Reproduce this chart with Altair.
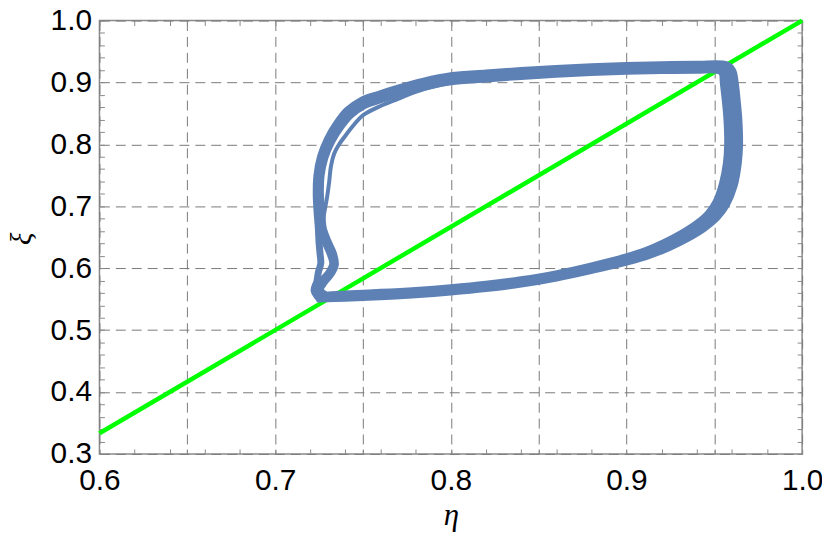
import altair as alt
import pandas as pd

# ---- axes ----
x_domain = [0.6, 1.0]
y_domain = [0.3, 1.0]
x_grid_values = [0.6, 0.65, 0.7, 0.75, 0.8, 0.85, 0.9, 0.95, 1.0]
y_grid_values = [0.3, 0.4, 0.5, 0.6, 0.7, 0.8, 0.9, 1.0]
x_minor_ticks = [0.6, 0.62, 0.64, 0.65, 0.66, 0.68, 0.7, 0.72, 0.74, 0.75, 0.76, 0.78,
                 0.8, 0.82, 0.84, 0.85, 0.86, 0.88, 0.9, 0.92, 0.94, 0.95, 0.96, 0.98, 1.0]
y_minor_ticks = [0.3, 0.32, 0.34, 0.36, 0.38, 0.4, 0.42, 0.44, 0.46, 0.48, 0.5, 0.52,
                 0.54, 0.56, 0.58, 0.6, 0.62, 0.64, 0.66, 0.68, 0.7, 0.72, 0.74, 0.76,
                 0.78, 0.8, 0.82, 0.84, 0.86, 0.88, 0.9, 0.92, 0.94, 0.96, 0.98, 1.0]

# ---- green reference line ----
green_eta = [0.6, 1.0]
green_xi = [0.3333, 1.0]

# ---- blue trajectory: three overlapping cycles (outer / middle / inner) ----
outer_eta = [0.7252, 0.7400, 0.7600, 0.7800, 0.8000, 0.8200, 0.8401, 0.8602, 0.8804, 0.9006,
             0.9130, 0.9244, 0.9348, 0.9442, 0.9516, 0.9570, 0.9614, 0.9637, 0.9644, 0.9640,
             0.9629, 0.9619, 0.9605, 0.9570, 0.9400, 0.9200, 0.9000, 0.8800, 0.8600, 0.8400,
             0.8200, 0.8000, 0.7846, 0.7695, 0.7594, 0.7492, 0.7408, 0.7347, 0.7296, 0.7259,
             0.7238, 0.7234, 0.7239, 0.7246, 0.7250, 0.7256, 0.7260, 0.7246, 0.7238, 0.7222,
             0.7252]
outer_xi = [0.5500, 0.5515, 0.5540, 0.5572, 0.5615, 0.5670, 0.5743, 0.5841, 0.5965, 0.6102,
            0.6206, 0.6335, 0.6481, 0.6644, 0.6820, 0.7029, 0.7338, 0.7700, 0.8000, 0.8400,
            0.8750, 0.9000, 0.9190, 0.9285, 0.9293, 0.9288, 0.9276, 0.9256, 0.9228, 0.9193,
            0.9153, 0.9108, 0.9022, 0.8906, 0.8815, 0.8713, 0.8545, 0.8324, 0.8076, 0.7810,
            0.7500, 0.7200, 0.6900, 0.6650, 0.6420, 0.6230, 0.6080, 0.5930, 0.5790, 0.5640,
            0.5500]

middle_eta = [0.7270, 0.7400, 0.7600, 0.7800, 0.8000, 0.8200, 0.8400, 0.8600, 0.8800, 0.9000,
              0.9120, 0.9230, 0.9330, 0.9420, 0.9490, 0.9540, 0.9580, 0.9603, 0.9610, 0.9606,
              0.9595, 0.9585, 0.9575, 0.9545, 0.9400, 0.9200, 0.9000, 0.8800, 0.8600, 0.8400,
              0.8200, 0.8000, 0.7850, 0.7700, 0.7600, 0.7500, 0.7420, 0.7360, 0.7310, 0.7272,
              0.7250, 0.7246, 0.7252, 0.7260, 0.7285, 0.7315, 0.7328, 0.7303, 0.7260, 0.7240,
              0.7270]
middle_xi = [0.5530, 0.5550, 0.5575, 0.5607, 0.5650, 0.5705, 0.5778, 0.5875, 0.6000, 0.6140,
             0.6245, 0.6375, 0.6520, 0.6680, 0.6850, 0.7050, 0.7350, 0.7700, 0.8000, 0.8400,
             0.8750, 0.9000, 0.9170, 0.9240, 0.9245, 0.9240, 0.9228, 0.9208, 0.9180, 0.9145,
             0.9105, 0.9060, 0.8975, 0.8860, 0.8770, 0.8670, 0.8510, 0.8300, 0.8060, 0.7800,
             0.7500, 0.7200, 0.6900, 0.6650, 0.6420, 0.6220, 0.6070, 0.5920, 0.5780, 0.5640,
             0.5530]

inner_eta = [0.7290, 0.7400, 0.7600, 0.7800, 0.8000, 0.8200, 0.8399, 0.8598, 0.8796, 0.8994,
             0.9110, 0.9216, 0.9312, 0.9398, 0.9464, 0.9510, 0.9546, 0.9569, 0.9576, 0.9572,
             0.9561, 0.9551, 0.9545, 0.9520, 0.9400, 0.9200, 0.9000, 0.8800, 0.8600, 0.8400,
             0.8200, 0.8000, 0.7854, 0.7705, 0.7606, 0.7508, 0.7432, 0.7373, 0.7322, 0.7284,
             0.7262, 0.7258, 0.7266, 0.7274, 0.7302, 0.7333, 0.7343, 0.7320, 0.7280, 0.7258,
             0.7290]
inner_xi = [0.5565, 0.5585, 0.5610, 0.5642, 0.5685, 0.5740, 0.5813, 0.5909, 0.6035, 0.6178,
            0.6284, 0.6415, 0.6559, 0.6716, 0.6880, 0.7071, 0.7362, 0.7700, 0.8000, 0.8400,
            0.8750, 0.9000, 0.9150, 0.9195, 0.9197, 0.9192, 0.9180, 0.9160, 0.9132, 0.9097,
            0.9057, 0.9012, 0.8928, 0.8814, 0.8725, 0.8627, 0.8475, 0.8276, 0.8044, 0.7790,
            0.7500, 0.7200, 0.6900, 0.6650, 0.6430, 0.6230, 0.6060, 0.5910, 0.5770, 0.5650,
            0.5565]

# thin strand that separates from the band at the upper-left corner
strand_eta = [0.7266, 0.7280, 0.7296, 0.7308, 0.7318, 0.7336, 0.7362, 0.7400, 0.7450, 0.7500,
              0.7600, 0.7700, 0.7800, 0.7900, 0.8000, 0.8200]
strand_xi = [0.6650, 0.6900, 0.7150, 0.7400, 0.7650, 0.7850, 0.7990, 0.8140, 0.8320, 0.8470,
             0.8620, 0.8735, 0.8850, 0.8935, 0.8995, 0.9050]

# ---- tables ----
green_df = pd.DataFrame({"eta": green_eta, "xi": green_xi})

rows = []
for name, es, xs_ in [("outer", outer_eta, outer_xi), ("middle", middle_eta, middle_xi),
                      ("inner", inner_eta, inner_xi)]:
    for i, (e, x) in enumerate(zip(es, xs_)):
        rows.append({"loop": name, "idx": i, "eta": e, "xi": x})
loops_df = pd.DataFrame(rows)
strand_df = pd.DataFrame({"eta": strand_eta, "xi": strand_xi, "idx": list(range(len(strand_eta)))})

xscale = alt.Scale(domain=x_domain, nice=False, zero=False)
yscale = alt.Scale(domain=y_domain, nice=False, zero=False)

FRAME = "#8a8a8a"
GRID = "#7a7a7a"
BLUE = "#5E81B5"

x_axis_main = alt.Axis(
    orient="bottom", values=x_grid_values, grid=True, gridColor=GRID, gridDash=[10, 6],
    gridWidth=1, ticks=False, tickSize=0, domain=False,
    labelExpr="round(datum.value*100) % 10 == 0 ? format(datum.value, '.1f') : ''",
    labelFont="Liberation Sans", labelFontSize=30, labelColor="black", labelPadding=12,
    labelFlush=False, labelOverlap=False,
    title="η", titleFont="Liberation Serif", titleFontStyle="italic", titleFontWeight="normal",
    titleFontSize=31, titleColor="black", titleY=71, titleBaseline="alphabetic",
)
y_axis_main = alt.Axis(
    orient="left", values=y_grid_values, grid=True, gridColor=GRID, gridDash=[10, 6],
    gridWidth=1, ticks=False, tickSize=0, domain=False, format=".1f",
    labelFont="Liberation Sans", labelFontSize=30, labelColor="black", labelPadding=8,
    labelFlush=False, labelOverlap=False,
    title="ξ", titleFont="Liberation Serif", titleFontStyle="italic", titleFontWeight="normal",
    titleFontSize=29, titleColor="black", titleAngle=270, titleX=-78, titleY=219,
    titleBaseline="middle", titleAlign="center",
)


def tick_axis(orient, values):
    return alt.Axis(orient=orient, values=values, offset=-5, tickSize=5, ticks=True,
                    tickColor=FRAME, tickWidth=1, labels=False, domain=False, grid=False,
                    title=None)


green = alt.Chart(green_df).mark_line(color="#00FF00", strokeWidth=4.5).encode(
    x=alt.X("eta:Q", scale=xscale, axis=x_axis_main),
    y=alt.Y("xi:Q", scale=yscale, axis=y_axis_main),
)

loops = alt.Chart(loops_df).mark_line(
    color=BLUE, strokeWidth=7, strokeCap="round", strokeJoin="round",
    interpolate="catmull-rom",
).encode(
    x=alt.X("eta:Q", scale=xscale, axis=None),
    y=alt.Y("xi:Q", scale=yscale, axis=None),
    detail="loop:N",
    order=alt.Order("idx:Q"),
)

strand = alt.Chart(strand_df).mark_line(
    color=BLUE, strokeWidth=4, strokeCap="round", strokeJoin="round",
    interpolate="catmull-rom",
).encode(
    x=alt.X("eta:Q", scale=xscale, axis=None),
    y=alt.Y("xi:Q", scale=yscale, axis=None),
    order=alt.Order("idx:Q"),
)

ticks_a = alt.Chart(green_df).mark_point(opacity=0).encode(
    x=alt.X("eta:Q", scale=xscale, axis=tick_axis("bottom", x_minor_ticks)),
    y=alt.Y("xi:Q", scale=yscale, axis=tick_axis("left", y_minor_ticks)),
)
ticks_b = alt.Chart(green_df).mark_point(opacity=0).encode(
    x=alt.X("eta:Q", scale=xscale, axis=tick_axis("top", x_minor_ticks)),
    y=alt.Y("xi:Q", scale=yscale, axis=tick_axis("right", y_minor_ticks)),
)

chart = alt.layer(green, loops, strand, ticks_a, ticks_b).resolve_axis(
    x="independent", y="independent"
).properties(
    width=707, height=436,
    autosize=alt.AutoSizeParams(type="none"),
    padding={"left": 92, "top": 11, "right": 20, "bottom": 88},
    background="white",
).configure_view(stroke=FRAME, strokeWidth=1.5)

chart.save("out.html", embed_options={"renderer": "svg", "actions": False})
